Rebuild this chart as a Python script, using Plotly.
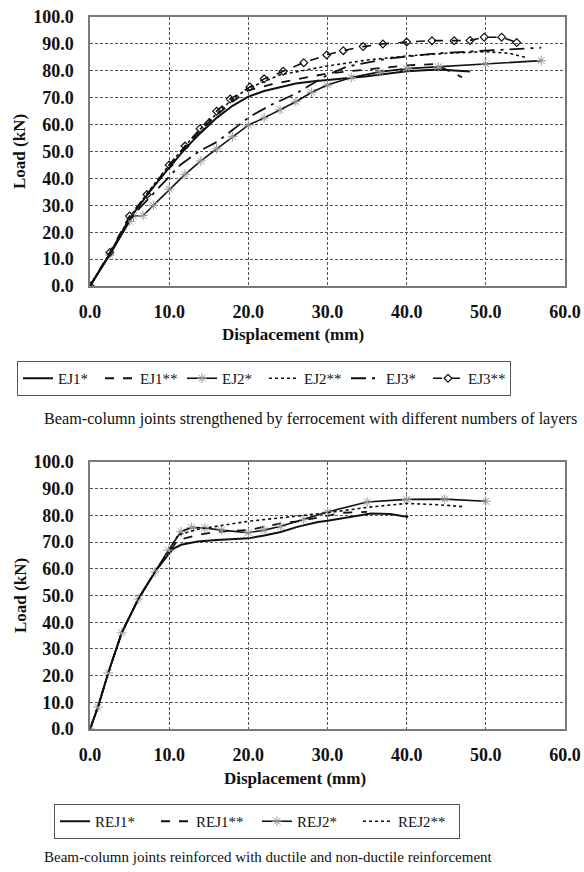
import plotly.graph_objects as go

# ---------------- Top chart data (ferrocement layers) ----------------
EJ1s_x = [0, 2.5, 5, 7.5, 10, 12, 14, 16, 18, 20, 22, 24, 26, 28, 30, 35, 40, 44, 48]
EJ1s_y = [0, 12, 25, 35, 44, 51, 57, 62.5, 67, 70.4, 72.5, 74, 75.3, 76, 76.5, 78, 79.8, 80.5, 79.7]

EJ1d_x = [0, 2.5, 5, 7.5, 10, 12, 14, 16, 18, 20, 23, 26, 30, 35, 40, 43.5, 45.2, 47]
EJ1d_y = [0, 12, 25.5, 35, 44.5, 51.5, 58, 63.5, 68.5, 72.7, 75, 76.8, 79, 80.5, 82, 82.5, 80, 77.6]

EJ2s_x = [0, 2.5, 5, 5.5, 6.7, 8, 10, 12, 14, 16, 18, 20, 22, 24, 26, 28, 30, 33, 36.6, 40, 44, 50, 57]
EJ2s_y = [0, 11.5, 24, 26, 26.2, 30, 36, 41.5, 46.5, 51, 55.5, 59.8, 62.5, 65.5, 68.5, 72, 74.7, 77.5, 79.6, 80.8, 81.5, 82.5, 83.8]

EJ2d_x = [0, 2.5, 5, 7.5, 10, 12, 14, 16, 18, 20, 24, 30, 35, 40, 45, 50, 53, 55]
EJ2d_y = [0, 12, 25.5, 35.5, 45, 52, 58.5, 64, 69.5, 73.5, 78.5, 81.8, 84, 85.5, 86.5, 87.1, 86.5, 85]

EJ3s_x = [0, 2.5, 5, 7.2, 9.3, 11.4, 14, 16, 18, 20.2, 23, 26, 28, 30, 32.4, 37.5, 43.8, 50.9, 57]
EJ3s_y = [0, 12, 25, 32, 38.3, 45, 50.5, 53.5, 58, 63, 67.5, 71.5, 75, 78.5, 81.5, 84.5, 86.5, 87.5, 88.6]

EJ3d_x = [0, 2.5, 5, 7.2, 10, 12, 13.9, 16, 17.7, 20.2, 22, 24.4, 27, 29.9, 32, 34.5, 37, 40, 43.2, 46, 48, 49.8, 52, 53.9]
EJ3d_y = [0, 12.5, 26, 34, 45, 52, 58.5, 65, 69.5, 74, 77, 79.8, 83, 85.9, 87.5, 89, 90, 90.7, 91.2, 91.2, 91.3, 92.5, 92.5, 90.5]

# ---------------- Bottom chart data (ductile / non-ductile) ----------------
REJ1s_x = [0, 1, 2.3, 4, 6.1, 8.2, 9.8, 10.5, 11.5, 13.6, 16, 20, 22, 24.1, 26.3, 28.8, 30, 33, 35.5, 37.9, 40.2]
REJ1s_y = [0, 8.2, 21, 36, 48.7, 58.8, 65, 67.5, 69, 70.2, 70.8, 71.4, 72.5, 73.8, 75.8, 77.5, 78, 79.5, 80.7, 80.5, 79.4]

REJ1d_x = [0, 1, 2.3, 4, 6.1, 8.2, 9.8, 11.1, 13.6, 15.7, 20, 24.1, 26.3, 30, 32, 35]
REJ1d_y = [0, 8.2, 21, 36, 48.7, 58.8, 65.5, 70.8, 72.6, 73.8, 74.5, 77, 77.8, 80, 81, 81.3]

REJ2s_x = [0, 1, 2.3, 4, 6.1, 8.2, 9.9, 11.5, 12.8, 14.5, 16.6, 20, 22, 24.1, 27, 30, 35, 40, 44.8, 50]
REJ2s_y = [0, 8.2, 21, 36, 48.7, 58.8, 67, 73.9, 75.5, 75.3, 74.5, 73.5, 74.5, 75.9, 78.5, 81.3, 85, 86, 86.1, 85.3]

REJ2d_x = [0, 1, 2.3, 4, 6.1, 8.2, 9.9, 11.1, 13.6, 20, 26.3, 30, 35, 40, 44, 47]
REJ2d_y = [0, 8.2, 21, 36, 48.7, 58.8, 66, 72.6, 74.8, 77.8, 79.8, 81, 83, 84.5, 84, 83.3]

x_ticks = [0, 10, 20, 30, 40, 50, 60]
y_ticks = [0, 10, 20, 30, 40, 50, 60, 70, 80, 90, 100]

X_TITLE = "Displacement (mm)"
Y_TITLE = "Load (kN)"
CAPTION_TOP = "Beam-column joints strengthened by ferrocement with different numbers of layers"
CAPTION_BOT = "Beam-column joints reinforced with ductile and non-ductile reinforcement"

W, H = 584, 872
FONT = "'Liberation Serif', 'Times New Roman', Times, serif"
BLACK = "#111111"
GRAY_MK = "#9a9a9a"

def fx(px):
    return px / W

def fy(py):
    return 1 - py / H

fig = go.Figure()

def add(x, y, name, dash="solid", width=1.8, marker=None, xa="x", ya="y", legend="legend"):
    mode = "lines" if marker is None else "lines+markers"
    kw = dict(x=x, y=y, name=name, mode=mode, xaxis=xa, yaxis=ya, legend=legend,
              line=dict(color=BLACK, width=width, dash=dash))
    if marker is not None:
        kw["marker"] = marker
    fig.add_trace(go.Scatter(**kw))

star = dict(symbol="asterisk-open", size=8, color=GRAY_MK, line=dict(color=GRAY_MK, width=1))
diam = dict(symbol="diamond-open", size=6, color=BLACK, line=dict(color=BLACK, width=1.2))

add(EJ1s_x, EJ1s_y, "EJ1*", "solid", 2.0)
add(EJ1d_x, EJ1d_y, "EJ1**", "dash", 1.8)
add(EJ2s_x, EJ2s_y, "EJ2*", "solid", 1.6, star)
add(EJ2d_x, EJ2d_y, "EJ2**", "dot", 1.6)
add(EJ3s_x, EJ3s_y, "EJ3*", "longdashdot", 1.8)
add(EJ3d_x, EJ3d_y, "EJ3**", "dash", 1.6, diam)

add(REJ1s_x, REJ1s_y, "REJ1*", "solid", 2.0, None, "x2", "y2", "legend2")
add(REJ1d_x, REJ1d_y, "REJ1**", "dash", 1.8, None, "x2", "y2", "legend2")
add(REJ2s_x, REJ2s_y, "REJ2*", "solid", 1.6, star, "x2", "y2", "legend2")
add(REJ2d_x, REJ2d_y, "REJ2**", "dot", 1.6, None, "x2", "y2", "legend2")

xdom = [fx(90), fx(565)]
top_dom = [fy(286), fy(17)]
bot_dom = [fy(729), fy(462)]

tickf = dict(family=FONT, size=18, color=BLACK, weight="bold")
grid = dict(showgrid=True, gridcolor="#555555", gridwidth=1, griddash="3px,2px")
frame = dict(showline=True, linecolor="#7a7a7a", linewidth=1.5, mirror=True, zeroline=False,
             ticks="", tickfont=tickf, automargin=False, ticklabeloverflow="allow")

xax = dict(range=[0, 60], tickvals=x_ticks, tickformat=".1f", domain=xdom,
           ticklabelstandoff=9, **grid, **frame)
yax = dict(range=[0, 100], tickvals=y_ticks, tickformat=".1f",
           ticklabelstandoff=11, **grid, **frame)

legfont = dict(family=FONT, size=15, color=BLACK)
fig.update_layout(
    width=W, height=H, autosize=False,
    margin=dict(l=0, r=0, t=0, b=0),
    paper_bgcolor="white", plot_bgcolor="white",
    font=dict(family=FONT, color=BLACK),
    xaxis=dict(anchor="y", **xax),
    yaxis=dict(anchor="x", domain=top_dom, **yax),
    xaxis2=dict(anchor="y2", **xax),
    yaxis2=dict(anchor="x2", domain=bot_dom, **yax),
    legend=dict(orientation="h", x=fx(17), xanchor="left", y=fy(361), yanchor="top",
                font=legfont, bordercolor="#555555", borderwidth=1,
                bgcolor="white", itemwidth=30, tracegroupgap=0,
                entrywidth=37, entrywidthmode="pixels"),
    legend2=dict(orientation="h", x=fx(54), xanchor="left", y=fy(804), yanchor="top",
                 font=legfont, bordercolor="#555555", borderwidth=1,
                 bgcolor="white", itemwidth=30, tracegroupgap=0,
                 entrywidth=56, entrywidthmode="pixels"),
    showlegend=True,
    hovermode=False,
)

def ann(text, x, y, size, bold=False, angle=0, xanchor="center"):
    fig.add_annotation(text=text, x=fx(x), y=fy(y), xref="paper", yref="paper",
                       showarrow=False, textangle=angle, xanchor=xanchor, yanchor="middle",
                       font=dict(family=FONT, size=size, color=BLACK, weight="bold" if bold else "normal"))

ann(X_TITLE, 293, 334, 17, True)
ann(Y_TITLE, 19, 152, 17, True, -90)
ann(X_TITLE, 295, 778, 17, True)
ann(Y_TITLE, 20, 596, 17, True, -90)
ann(CAPTION_TOP, 42, 419, 16.2, xanchor="left")
ann(CAPTION_BOT, 268, 857, 15)

# remove the browser's default 8px body margin so the 584x872 figure fills the window exactly
fig.write_html("out.html", config={"displayModeBar": False},
               post_script="document.body.style.margin='0px';document.body.style.overflow='hidden';")
